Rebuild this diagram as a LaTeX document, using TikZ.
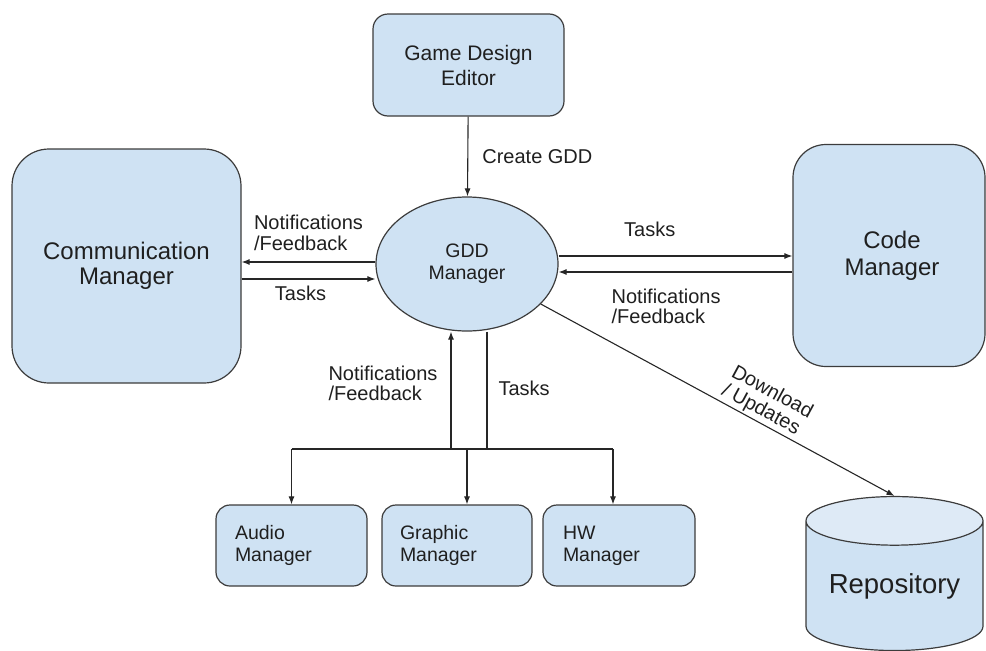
\documentclass[tikz,border=0pt]{standalone}
\usepackage{fontspec}
\setmainfont{Liberation Sans}
\usepackage{tikz}
\usetikzlibrary{shapes,arrows,arrows.meta,positioning}
\definecolor{azulcaja}{HTML}{CFE2F3}
\definecolor{azultapa}{HTML}{DEEAF6}
\definecolor{borde}{HTML}{3C3C3C}
\tikzstyle{gestor} = [draw=borde, fill=azulcaja, line width=1.2pt, rectangle, rounded corners=35pt, align=center, inner sep=0pt, text=black!88]
\tikzstyle{modulo} = [gestor, rounded corners=14pt, minimum height=81pt, inner xsep=19pt, align=left, font=\fontsize{19.5}{22}\selectfont]
\tikzstyle{linea} = [draw=black!85, line width=1.1pt]
\tikzstyle{flujo} = [linea, -{Latex[length=8pt,width=6pt]}]
\tikzstyle{etiqueta} = [inner sep=0pt, align=left, font=\fontsize{20}{20.5}\selectfont, text=black!88]

\begin{document}
\begin{tikzpicture}[x=1pt, y=-1pt]
	\useasboundingbox (0,0) rectangle (986,651);
	\node [gestor, rounded corners=15pt, minimum width=191pt, minimum height=102pt, font=\fontsize{21}{25}\selectfont] (editor) at (468.5,65) {Game Design\\Editor};
	\node [gestor, rounded corners=37pt, minimum width=229pt, minimum height=234pt, font=\fontsize{24}{25}\selectfont] (comm) at (126.5,266) {Communication\\Manager};
	\node [gestor, rounded corners=33pt, minimum width=192pt, minimum height=222pt, font=\fontsize{24}{27}\selectfont] (code) at (889,255.5) {\hspace*{6pt}Code\\\hspace*{6pt}Manager};
	\node [gestor, ellipse, minimum width=182pt, minimum height=134pt, font=\fontsize{19.5}{22}\selectfont] (gdd) at (467,264) {GDD\\Manager};
	\node [modulo, text width=113pt] (audio) at (291.5,545.5) {Audio\\Manager};
	\node [modulo, text width=114pt, inner xsep=18pt] (graphic) at (457,545.5) {Graphic\\Manager};
	\node [modulo, text width=112pt, inner xsep=20pt] (hw) at (619,545.5) {HW\\Manager};
	\node [draw=borde, line width=1.2pt, cylinder, shape border rotate=90, aspect=0.37, minimum height=154pt, minimum width=177pt, cylinder uses custom fill, cylinder body fill=azulcaja, cylinder end fill=azultapa, inner sep=0pt, text=black!88, font=\fontsize{27.5}{30}\selectfont] (repo) at (894.5,586) {Repository};

	\draw [flujo] (editor) -- (gdd) node [etiqueta, midway, right=14pt] (crear) {Create GDD};
	\draw [flujo] ([yshift=2pt]gdd.west) -- ([yshift=2pt]gdd.west -| comm.east) node [etiqueta, midway, above=11pt] (notifcomm) {Notifications\\/Feedback};
	\draw [flujo] ([yshift=-15pt]gdd.west -| comm.east) -- ([yshift=-15pt]gdd.west) node [etiqueta, pos=0.44, below=6pt] (tareascomm) {Tasks};
	\draw [flujo] ([yshift=8pt]gdd.east) -- ([yshift=8pt]gdd.east -| code.west) node [etiqueta, pos=0.39, above=19pt] (tareascode) {Tasks};
	\draw [flujo] ([yshift=-8pt]gdd.east -| code.west) -- ([yshift=-8pt]gdd.east) node [etiqueta, pos=0.54, below=16pt] (notifcode) {Notifications\\/Feedback};
	\draw [flujo] (gdd) -- (repo.north) node [etiqueta, pos=0.61, rotate=-28.4, anchor=south, inner ysep=2pt] (descarga) {Download\\/ Updates};

	\coordinate (bus) at (467,449);
	\draw [flujo] ([xshift=-16pt]gdd.south |- bus) -- ([xshift=-16pt]gdd.south) node [etiqueta, pos=0.56, left=13pt] (notifmod) {Notifications\\/Feedback};
	\draw [linea] ([xshift=20pt]gdd.south) -- ([xshift=20pt]gdd.south |- bus) node [etiqueta, pos=0.48, right=11pt] (tareasmod) {Tasks};
	\draw [linea] (audio.north |- bus) -- ([xshift=-6pt]hw.north |- bus);
	\draw [flujo] (audio.north |- bus) -- (audio.north);
	\draw [flujo] ([xshift=10pt]graphic.north |- bus) -- ([xshift=10pt]graphic.north);
	\draw [flujo] ([xshift=-6pt]hw.north |- bus) -- ([xshift=-6pt]hw.north);
\end{tikzpicture}
\end{document}
